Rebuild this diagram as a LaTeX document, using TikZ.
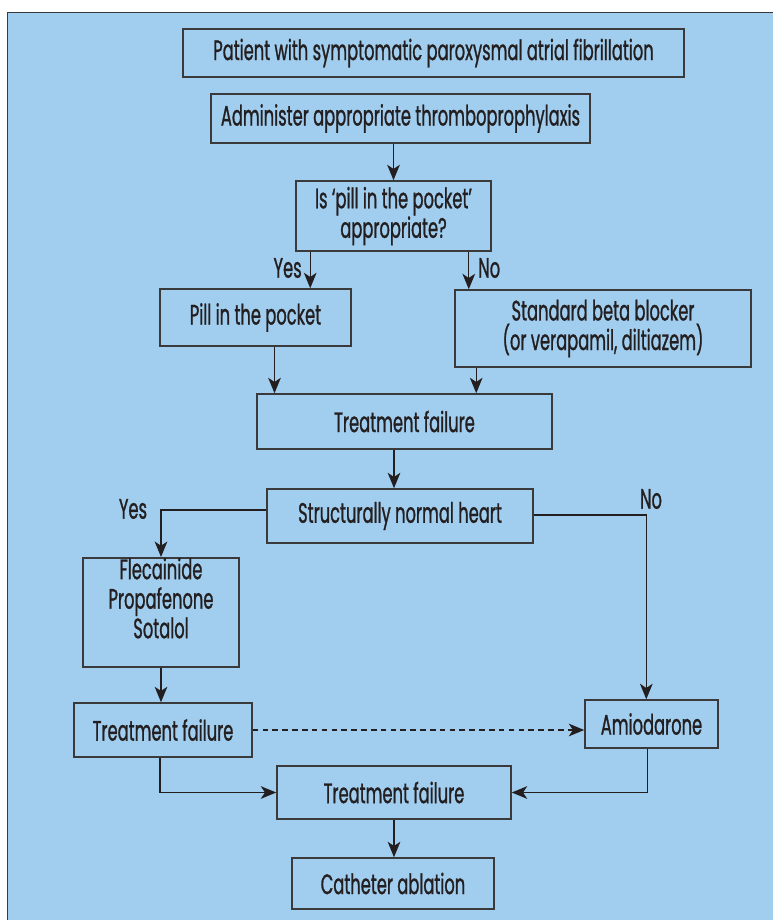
\documentclass[tikz,border=0pt]{standalone}
\usepackage{fontspec}
\setmainfont{Poppins}[FakeStretch=0.58, FakeBold=0.9]
\usetikzlibrary{arrows.meta}
\definecolor{panelblue}{HTML}{A1CDEE}
\definecolor{inkgray}{HTML}{3A3A3A}
\definecolor{txt}{HTML}{231F20}
\newdimen\pxu \pxu=0.025cm
\begin{document}
\begin{tikzpicture}[x=\pxu, y=-\pxu, font=\fontsize{20pt}{21pt}\selectfont, text=txt,
    >={Stealth[length=11pt, width=9pt, inset=3pt]}]
    \tikzset{
      bx/.style={draw=inkgray, line width=1.1pt, inner sep=0pt, align=center},
      ar/.style={->, draw=txt, line width=0.9pt},
      lbl/.style={inner sep=0pt},
    }
    \useasboundingbox (0,0) rectangle (772,920);
    \draw[fill=panelblue, draw=inkgray, line width=1.2pt] (7.5,12.5) rectangle (800,950);

    \node[bx, minimum width=501\pxu, minimum height=48\pxu] (patient) at (433.5,53)
      {Patient with symptomatic paroxysmal atrial fibrillation};
    \node[bx, minimum width=379\pxu, minimum height=49\pxu] (thromb) at (400.5,118.5)
      {Administer appropriate thromboprophylaxis};
    \node[bx, minimum width=195\pxu, minimum height=70\pxu] (pip) at (393.5,216)
      {Is ‘pill in the pocket’\\appropriate?};
    \node[bx, minimum width=191\pxu, minimum height=57\pxu] (pill) at (255.5,317.5)
      {Pill in the pocket};
    \node[bx, minimum width=296\pxu, minimum height=77\pxu] (beta) at (603,328.5)
      {Standard beta blocker\\(or verapamil, diltiazem)};
    \node[bx, minimum width=295\pxu, minimum height=55\pxu] (tfone) at (404.5,421.5)
      {Treatment failure};
    \node[bx, minimum width=266\pxu, minimum height=54\pxu] (heart) at (400,516)
      {Structurally normal heart};
    \node[bx, minimum width=156\pxu, text depth=29\pxu, anchor=north] (flec) at (161,557)
      {\rule{0pt}{15pt}Flecainide\\Propafenone\\Sotalol};
    \node[bx, minimum width=178\pxu, minimum height=54\pxu] (tfleft) at (163,730)
      {Treatment failure};
    \node[bx, minimum width=133\pxu, minimum height=48\pxu] (amio) at (651.5,724)
      {Amiodarone};
    \node[bx, minimum width=234\pxu, minimum height=53\pxu] (tfbot) at (394,792.5)
      {Treatment failure};
    \node[bx, minimum width=202\pxu, minimum height=51\pxu] (cath) at (393,883.5)
      {Catheter ablation};

    % top chain
    \draw[ar] (pip.north |- thromb.south) -- (pip.north);
    \draw[ar] ([xshift=15\pxu]pip.south west) coordinate (ys) -- (ys |- pill.north);
    \draw[ar] ([xshift=-23\pxu]pip.south east) coordinate (ns) -- (ns |- beta.north);
    \node[lbl, anchor=east] at (302,268) {Yes};
    \node[lbl, anchor=west] at (478,268) {No};

    \draw[ar] ([xshift=19\pxu]pill.south) coordinate (pa) -- (pa |- tfone.north);
    \draw[ar] ([xshift=22\pxu]beta.south west) coordinate (ba) -- (ba |- tfone.north);
    \draw[ar] ([xshift=-6\pxu]heart.north |- tfone.south) coordinate (ta) -- (ta |- heart.north);

    % branches from heart
    \draw[ar] ([yshift=6\pxu]heart.west) -| (flec.north);
    \node[lbl] at (133,509) {Yes};
    \coordinate (nocorner) at (646.3,515);
    \draw[ar] (heart.east |- nocorner) -- (nocorner) -- (nocorner |- amio.north);
    \node[lbl] at (651,499) {No};

    % lower part
    \draw[ar] (flec.south) -- (flec.south |- tfleft.north);
    \draw[ar, dashed, dash pattern=on 4pt off 3pt] (tfleft.east) -- (tfleft.east -| amio.west);
    \draw[ar] ([xshift=-3\pxu]tfleft.south) |- (tfbot.west);
    \draw[ar] ([xshift=-4\pxu]amio.south) |- (tfbot.east);
    \draw[ar] (tfbot.south) -- (tfbot.south |- cath.north);
\end{tikzpicture}
\end{document}
